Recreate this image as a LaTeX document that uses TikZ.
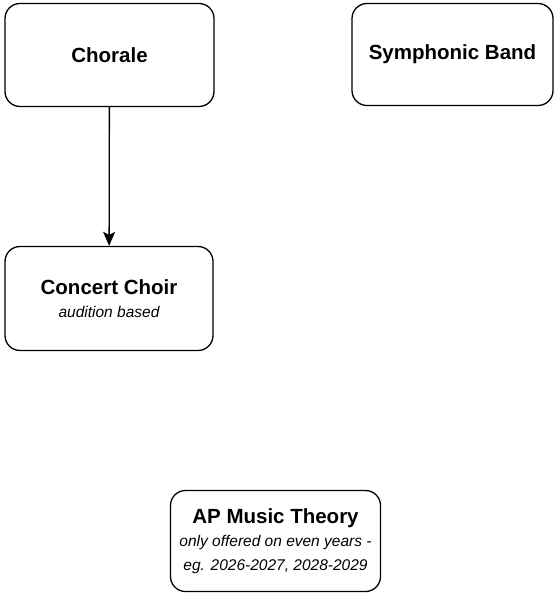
\documentclass[tikz,border=0pt]{standalone}
\usepackage{fontspec}
\setmainfont{Liberation Sans}
\usetikzlibrary{arrows.meta}

\begin{document}
\begin{tikzpicture}[x=1pt,y=-1pt]
\tikzset{course/.style = {draw=black, line width=1.3pt, rounded corners=15pt, align=center,
                          font=\fontsize{15.5}{23.5}\selectfont\itshape},
         link/.style = {-{Stealth[length=14pt,width=12pt,inset=3pt]}, line width=1.3pt}}
\newcommand{\ctitle}[1]{{\fontsize{20.5}{23.5}\selectfont\bfseries\upshape #1}}

\useasboundingbox (0,0) rectangle (554,593);

\node[course, minimum width=209pt, minimum height=103pt] (chorale) at (109.5,55) {\ctitle{Chorale}};
\node[course, minimum width=201pt, minimum height=102pt] (band) at (452.5,54.5) {\ctitle{Symphonic Band}};
\node[course, minimum width=208pt, minimum height=104pt] (concert) at (109,298.5) {\ctitle{Concert Choir}\\ audition based};
\node[course, minimum width=210pt, minimum height=101pt] (theory) at (275.5,541) {\ctitle{AP Music Theory}\\ only offered on even years -\\ eg. 2026-2027, 2028-2029};

\path [link] (chorale) edge (concert);
\end{tikzpicture}
\end{document}
